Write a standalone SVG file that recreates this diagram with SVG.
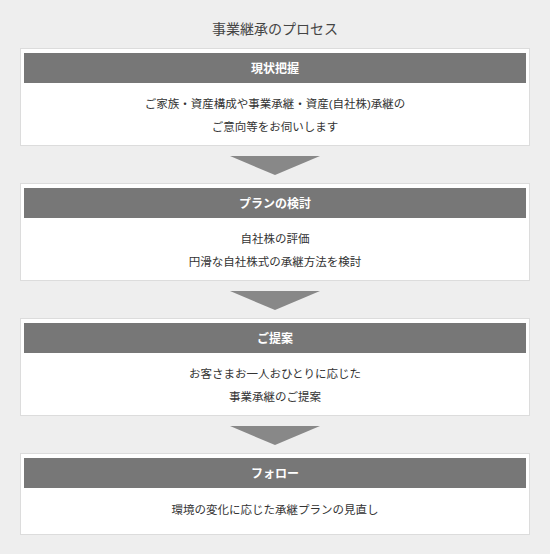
<svg xmlns="http://www.w3.org/2000/svg" width="550" height="554" viewBox="0 0 550 554">
<style>
.t{font-family:"Liberation Sans","Noto Sans CJK JP",sans-serif;text-anchor:middle}
.title{font-size:14px;fill:#444}
.box{fill:#fff;stroke:#dcdcdc;stroke-width:1}
.hd{fill:#777}
.ht{font-size:12px;font-weight:bold;fill:#fff}
.bt{font-size:11.5px;fill:#333}
.arr{fill:#888}
</style>
<rect width="550" height="554" fill="#eeeeee"/>
<text class="t title" x="275" y="34">事業継承のプロセス</text>
<g id="connectors">
<polygon class="arr" points="230,156 320,156 275,175"/>
<polygon class="arr" points="230,291 320,291 275,310"/>
<polygon class="arr" points="230,426 320,426 275,445"/>
</g>
<g id="step1">
<rect class="box" x="20.5" y="48.5" width="509" height="97"/>
<rect class="hd" x="24" y="53" width="502" height="30"/>
<text class="t ht" x="275" y="72.5">現状把握</text>
<text class="t bt" x="275" y="108">ご家族・資産構成や事業承継・資産(自社株)承継の</text>
<text class="t bt" x="275" y="131">ご意向等をお伺いします</text>
</g>
<g id="step2">
<rect class="box" x="20.5" y="183.5" width="509" height="97"/>
<rect class="hd" x="24" y="188" width="502" height="30"/>
<text class="t ht" x="275" y="207.5">プランの検討</text>
<text class="t bt" x="275" y="243">自社株の評価</text>
<text class="t bt" x="275" y="266">円滑な自社株式の承継方法を検討</text>
</g>
<g id="step3">
<rect class="box" x="20.5" y="318.5" width="509" height="97"/>
<rect class="hd" x="24" y="323" width="502" height="30"/>
<text class="t ht" x="275" y="342.5">ご提案</text>
<text class="t bt" x="275" y="378">お客さまお一人おひとりに応じた</text>
<text class="t bt" x="275" y="401">事業承継のご提案</text>
</g>
<g id="step4">
<rect class="box" x="20.5" y="453.5" width="509" height="81"/>
<rect class="hd" x="24" y="458" width="502" height="30"/>
<text class="t ht" x="275" y="477.5">フォロー</text>
<text class="t bt" x="275" y="514">環境の変化に応じた承継プランの見直し</text>
</g>
</svg>
